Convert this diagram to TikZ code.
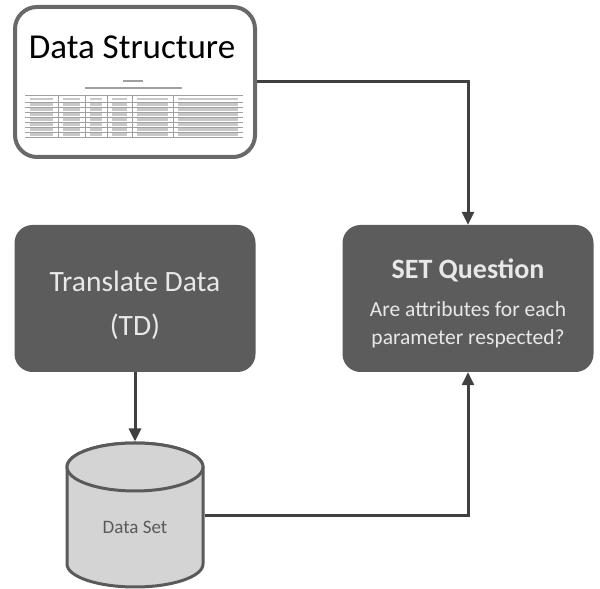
\documentclass[tikz,border=0pt]{standalone}
\usepackage{fontspec}
\setmainfont{Carlito}
\usetikzlibrary{arrows.meta}
\definecolor{boxgray}{RGB}{92,92,92}
\definecolor{linegray}{RGB}{64,64,64}
\definecolor{framegray}{RGB}{105,105,105}
\definecolor{cylgray}{RGB}{212,212,212}
\definecolor{textlight}{RGB}{232,232,232}
\definecolor{textdark}{RGB}{90,90,90}
\definecolor{tablegray}{RGB}{160,160,160}
\definecolor{cellgray}{RGB}{200,200,200}

\begin{document}
\begin{tikzpicture}[x=1pt,y=1pt,
    darkbox/.style={fill=boxgray,rounded corners=18pt,text=textlight,align=center,inner sep=0pt},
    flow/.style={draw=linegray,line width=3pt,-{Triangle[length=13pt,width=12pt]}}]
    \useasboundingbox (0,0) rectangle (600,589);
    \node[draw=framegray,line width=4pt,fill=white,rounded corners=22pt,minimum width=240pt,minimum height=150pt] (ds) at (135,507) {};
    \node[font=\fontsize{35}{40}\selectfont,anchor=base] (dstitle) at (132,530) {Data Structure};
    \fill[tablegray] (123,507) rectangle (143,509);
    \fill[tablegray] (85,500) rectangle (182,502);
    \foreach \xa/\xb in {25/58,58/85,85/107,107/132,132/173,173/243}
        \foreach \y in {490,484.5,479.5,...,454.5}
            \fill[cellgray] (\xa+5,\y-1.2) rectangle (\xb-5,\y+1.2);
    \draw[tablegray,line width=1pt] (25,493) -- (243,493);
    \foreach \y in {487,482,...,452}
        \draw[tablegray,line width=0.8pt] (25,\y) -- (243,\y);
    \foreach \x in {58,85,107,132,173}
        \draw[tablegray,line width=1pt] (\x,493) -- (\x,452);
    \node[darkbox,minimum width=241pt,minimum height=147pt,font=\fontsize{29.5}{44}\selectfont] (td) at (135,290.5) {\rule{0pt}{34pt}Translate Data\\(TD)};
    \node[darkbox,minimum width=251pt,minimum height=147pt,font=\fontsize{21.5}{28}\selectfont] (set) at (468,290.5) {\rule{0pt}{30pt}{\fontsize{28}{37}\selectfont\bfseries SET Question}\\[10pt]Are attributes for each\\parameter respected?};
    \draw[textdark,line width=3pt,fill=cylgray] (67,122) -- (67,25) arc[start angle=180,end angle=360,x radius=68,y radius=23] -- (203,122) arc[start angle=0,end angle=180,x radius=68,y radius=24] -- cycle;
    \draw[textdark,line width=3pt,fill=cylgray] (135,122) ellipse [x radius=68,y radius=24];
    \node[font=\fontsize{19}{23}\selectfont,text=textdark,anchor=base] (dset) at (135,55) {Data Set};
    \coordinate (cyltop) at (135,147.5);
    \coordinate (cylright) at (204.5,73);
    \draw[flow] (ds.east) -| (set.north);
    \draw[flow] (td.south) -- (cyltop);
    \draw[flow] (cylright) -| (set.south);
\end{tikzpicture}
\end{document}
